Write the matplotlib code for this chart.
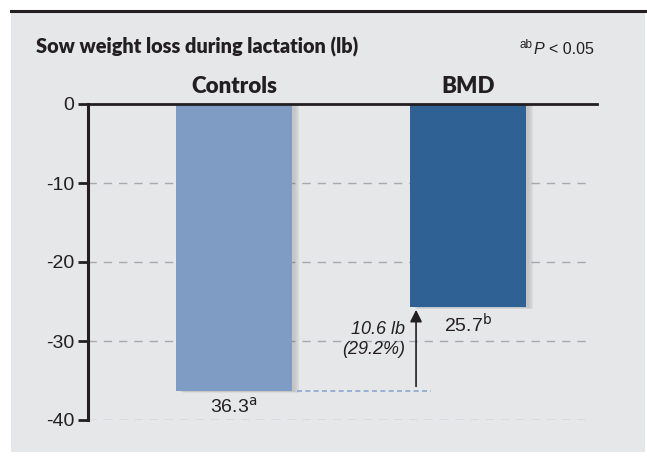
import matplotlib.pyplot as plt
from matplotlib.patches import Rectangle
import numpy as np

# data
groups = ["Controls", "BMD"]
losses = [36.3, 25.7]
letters = ["a", "b"]
bar_colors = ["#7f9cc4", "#2f6195"]
yticks = [0, -10, -20, -30, -40]
diff_label = "10.6 lb\n(29.2%)"

NARROW = ["Liberation Sans Narrow", "Liberation Sans"]
BOLD = ["Lato", "DejaVu Sans"]

W, H = 647, 458
fig = plt.figure(figsize=(W / 100, H / 100), dpi=100)
fig.patch.set_facecolor("white")

# grey panel + top rule
fig.patches.append(Rectangle((11 / W, 1 - 452 / H), 634 / W, 442 / H,
                             transform=fig.transFigure, facecolor="#e6e7e9",
                             edgecolor="none", zorder=-5))
fig.add_artist(plt.Line2D([11 / W, 1.0], [1 - 11 / H, 1 - 11 / H],
                          transform=fig.transFigure, color="#231f20", lw=2.2))

ax = fig.add_axes([88 / W, 1 - 420 / H, 509 / W, 316 / H])
ax.set_zorder(2)
ax.set_facecolor("none")

x = np.arange(len(groups))
vals = -np.array(losses)
width = 116 / 234

# soft drop shadow
for k in range(6):
    off = 0.012 + k * 0.004
    ax.bar(x + off, vals - off * 8, width=width, bottom=0, color="#000000",
           alpha=0.025, zorder=1, linewidth=0)
ax.bar(x, vals, width=width, color=bar_colors, zorder=2, linewidth=0)

ax.set_xlim(-(234 - 88) / 234, 1 + (597 - 468) / 234)
ax.set_ylim(-40, 0)

ax.set_yticks(yticks)
ax.set_yticklabels([str(t) for t in yticks], fontsize=14, color="#231f20",
                   family=NARROW)
ax.tick_params(axis="y", direction="out", length=7, width=2, color="#231f20", pad=3)
ax.set_xticks([])
for s in ["top", "right", "bottom"]:
    ax.spines[s].set_visible(False)
ax.spines["left"].set_linewidth(2.2)
ax.spines["left"].set_color("#231f20")

for t in yticks[1:]:
    ax.plot([ax.get_xlim()[0], 1.52], [t, t], color="#a7a9ac", lw=1,
            ls=(0, (6, 5)), zorder=0.5)
ax.axhline(0, color="#231f20", lw=2, zorder=5, clip_on=False)

# value labels
for i, (v, l) in enumerate(zip(losses, letters)):
    ax.text(x[i], -v - 0.8, f"{v}$^{{\\mathrm{{{l}}}}}$", ha="center", va="top",
            fontsize=14, color="#231f20", family=NARROW)
    ax.text(x[i], 0.9, groups[i], ha="center", va="bottom", fontsize=16,
            fontweight="heavy", color="#231f20", family=BOLD)

# difference marker
ax.plot([x[0] + width / 2 + 0.02, x[1] - 0.16], [-losses[0], -losses[0]],
        color="#8aa8d0", lw=1.2, ls=(0, (3, 2)), zorder=3)
ax.annotate("", xy=(x[1] - 0.222, -losses[1]), xytext=(x[1] - 0.222, -losses[0] + 0.2),
            arrowprops=dict(arrowstyle="-|>", color="#231f20", lw=1.2,
                            mutation_scale=18), zorder=4)
ax.text(x[1] - 0.27, -27.5, diff_label, ha="right", va="top", fontsize=13,
        style="italic", color="#231f20", linespacing=1.25, family=NARROW)

fig.text(36 / W, 1 - 47 / H, "Sow weight loss during lactation (lb)", fontsize=14.3,
         fontweight="heavy", color="#231f20", va="center", ha="left", family=BOLD)
fig.text(594 / W, 1 - 49 / H, "< 0.05", fontsize=11.5, color="#231f20",
         va="center", ha="right", family=NARROW)
fig.text(544 / W, 1 - 49 / H, "P", fontsize=11.5, color="#231f20", style="italic",
         va="center", ha="right", family=NARROW)
fig.text(533 / W, 1 - 45 / H, "ab", fontsize=8.5, color="#231f20",
         va="center", ha="right", family=NARROW)

fig.savefig("out.png", dpi=100)
